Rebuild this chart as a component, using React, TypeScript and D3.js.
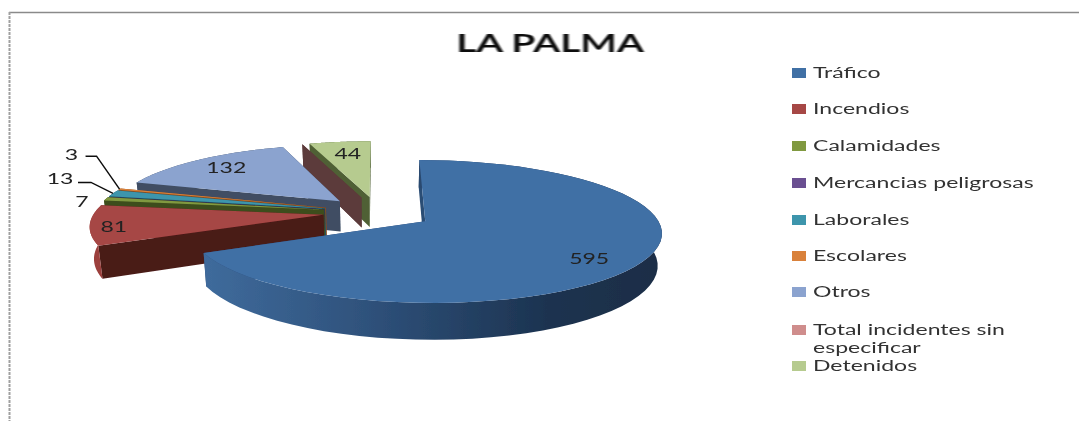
import React from "react";
import * as d3 from "d3";

const categories = ["Tráfico", "Incendios", "Calamidades", "Mercancias peligrosas", "Laborales", "Escolares", "Otros", "Total incidentes sin especificar", "Detenidos"];
const values = [595, 81, 7, 0, 13, 3, 132, 0, 44];
const topColors = ["#406fa5", "#a64644", "#80993f", "#6a4f91", "#3c95ac", "#d9813a", "#8ba3cf", "#cf8d8c", "#b6cb8f"];
const wallColors = ["#2c4d74", "#4a1a17", "#3d4d1c", "#3a2a50", "#1f5566", "#8a4d1e", "#3f4d63", "#5c3a3a", "#4f6135"];

const W = 1079;
const H = 421;

// projection of the pie plane, fitted on the picture
const origin = { x: 378, y: 212.4 };
const scaleU = 229;
const scaleV = 67.5;
const perspective = 0.1405;
const explode = 0.24;
const depth = 31;
const stretch = 1.44; // the original image is stretched sideways

const project = (u: number, v: number, drop = 0) => {
  const w = 1 + perspective * v;
  const shrink = drop ? 0.985 : 1;
  return [origin.x + (scaleU * u / w) * shrink, origin.y - (scaleV * v) / w + drop / w] as [number, number];
};

const slices = d3.pie<number>().sort(null).value((d) => d)(values);

const sliceGeometry = slices.map((s) => {
  const mid = (s.startAngle + s.endAngle) / 2;
  const au = explode * Math.sin(mid);
  const av = explode * Math.cos(mid);
  const rim = (a: number, r = 1, drop = 0) => project(au + r * Math.sin(a), av + r * Math.cos(a), drop);
  return { ...s, mid, rim };
});

const line = d3.line();

const sample = (a0: number, a1: number) => d3.range(0, 61).map((i) => a0 + ((a1 - a0) * i) / 60);

function topPath(g: (typeof sliceGeometry)[number]) {
  return line([g.rim(0, 0), ...sample(g.startAngle, g.endAngle).map((a) => g.rim(a)), g.rim(0, 0)]) + "Z";
}
function edgeWall(g: (typeof sliceGeometry)[number], a: number) {
  return line([g.rim(a, 0), g.rim(a, 1), g.rim(a, 1, depth), g.rim(a, 0, depth)]) + "Z";
}
function rimWall(g: (typeof sliceGeometry)[number]) {
  const angles = sample(g.startAngle, g.endAngle);
  return line([...angles.map((a) => g.rim(a)), ...angles.reverse().map((a) => g.rim(a, 1, depth))]) + "Z";
}

// data labels: radial position and small nudge in pixels
const labelRadius = [0.8, 0.92, 1, 1, 1, 1, 0.78, 1, 0.78];
const labelNudge = [[-7, 5], [5, 2], [-24, 2], [0, 0], [-53, -15], [-48, -35], [-1, -1], [0, 0], [2, 0]];
// leader line elbows relative to the slice rim
const leaders: Record<number, [number, number][]> = {
  4: [[-22, -11], [-35, -11]],
  5: [[-23, -33], [-34, -33]],
};

const legendY = [73, 109, 146, 183, 220, 256, 292, 330, 366];
const paintOrder = [8, 7, 6, 5, 4, 3, 2, 1, 0];
const textFont = "Lato, sans-serif";
const legendX = 813;

export default function App() {
  const traffic = sliceGeometry[0];
  const [gx0, gx1] = d3.extent(sample(traffic.startAngle, traffic.endAngle).map((a) => traffic.rim(a)[0])) as [number, number];
  return (
    <svg width={W} height={H} style={{ position: "absolute", left: 0, top: 0, background: "#fff" }}>
      <defs>
        <linearGradient id="trafficWall" gradientUnits="userSpaceOnUse" x1={gx0} x2={gx1} y1={0} y2={0}>
          <stop offset="0" stopColor="#3f6b9c" />
          <stop offset="0.35" stopColor="#2f527c" />
          <stop offset="0.75" stopColor="#1c3350" />
          <stop offset="1" stopColor="#1a2d46" />
        </linearGradient>
        <filter id="soft" x="-5%" y="-20%" width="110%" height="140%">
          <feGaussianBlur stdDeviation="0.6" />
        </filter>
      </defs>
      <line x1={9} x2={W} y1={12.5} y2={12.5} stroke="#8a8a8a" strokeWidth={1.5} />
      <line x1={9.5} x2={9.5} y1={12} y2={H} stroke="#a0a0a0" strokeWidth={2} strokeDasharray="3 1" />
      <g filter="url(#soft)">
        {paintOrder.map((i) => {
          const g = sliceGeometry[i];
          const wall = wallColors[i];
          return (
            <g key={i}>
              <path d={edgeWall(g, g.endAngle)} fill={wall} />
              <path d={edgeWall(g, g.startAngle)} fill={wall} />
              {values[i] > 0 && <path d={rimWall(g)} fill={i === 0 ? "url(#trafficWall)" : i === 1 ? "#9c3f3c" : wall} />}
              {values[i] > 0 && <path d={topPath(g)} fill={topColors[i]} />}
            </g>
          );
        })}
        {Object.entries(leaders).map(([key, pts]) => {
          const g = sliceGeometry[+key];
          const [x, y] = g.rim(g.mid);
          return <path key={key} d={line([[x, y], ...pts.map(([dx, dy]) => [x + dx, y + dy] as [number, number])]) ?? ""} fill="none" stroke="#111" strokeWidth={1.5} />;
        })}
      </g>
      <g filter="url(#soft)" fontFamily={textFont} fontSize={16} fill="#222" textAnchor="middle">
        {sliceGeometry.map((g, i) => {
          if (!values[i]) return null;
          const [x, y] = g.rim(g.mid, labelRadius[i]);
          return (
            <text key={i} transform={`translate(${x + labelNudge[i][0]},${y + labelNudge[i][1]}) scale(${stretch},1)`} dy="0.36em">
              {values[i]}
            </text>
          );
        })}
      </g>
      <text transform={`translate(550,52) scale(1.55,1)`} textAnchor="middle" fontFamily={textFont} fontWeight={700} fontSize={25} fill="#111" filter="url(#soft)">
        LA PALMA
      </text>
      <g filter="url(#soft)" fontFamily={textFont} fontSize={16} fill="#333">
        {categories.map((c, i) => (
          <g key={c}>
            <rect x={792} y={legendY[i] - 5} width={14} height={10} fill={topColors[i]} />
            <g transform={`translate(${legendX},${legendY[i] + 5}) scale(${stretch},1)`}>
              {i === 7 ? (
                <text>
                  <tspan x={0}>Total incidentes sin</tspan>
                  <tspan x={0} dy={18}>especificar</tspan>
                </text>
              ) : (
                <text>{c}</text>
              )}
            </g>
          </g>
        ))}
      </g>
    </svg>
  );
}
